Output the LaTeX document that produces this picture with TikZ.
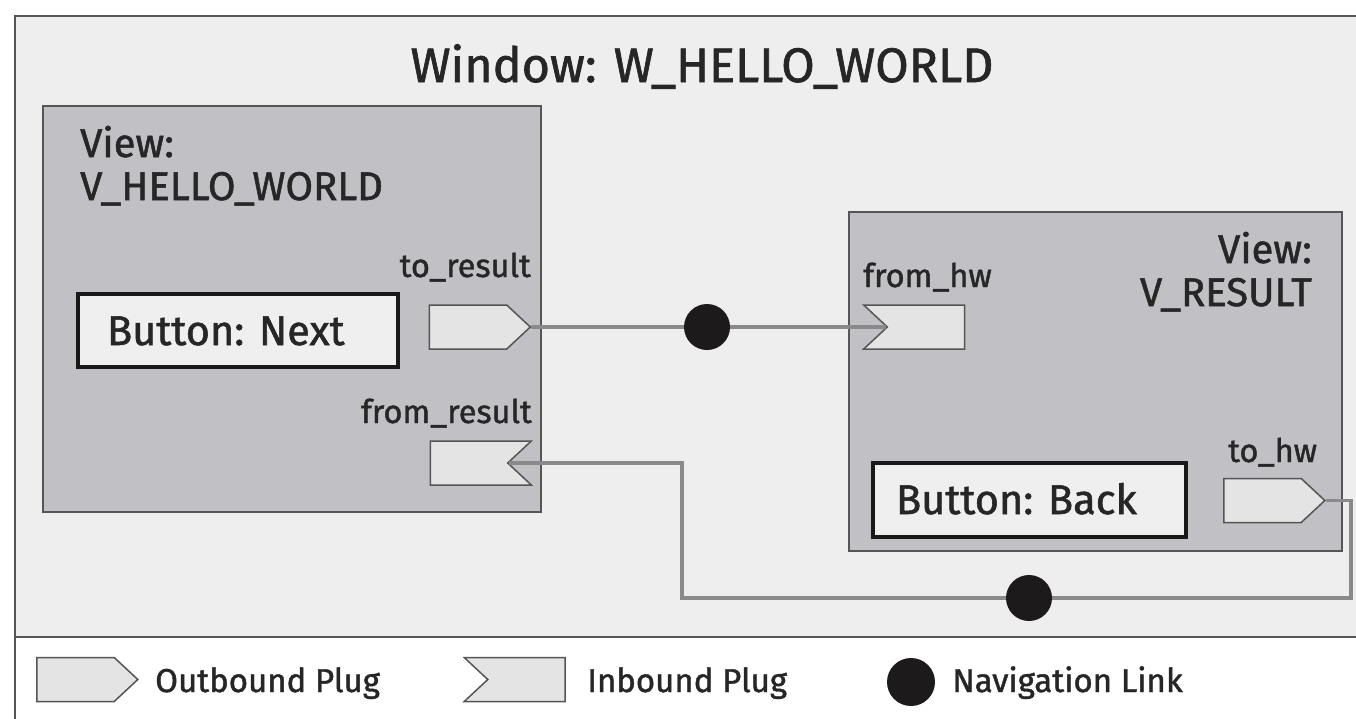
\documentclass[tikz,border=0pt]{standalone}
\usepackage{fontspec}
\setmainfont{Fira Sans}[FakeBold=1.3]
\usetikzlibrary{shapes.symbols}

\definecolor{winbg}{HTML}{EEEEEE}
\definecolor{viewbg}{HTML}{C1C0C5}
\definecolor{frameln}{HTML}{555555}
\definecolor{plugbg}{HTML}{E4E4E4}
\definecolor{linkln}{HTML}{8A8A8A}
\definecolor{txt}{HTML}{262626}
\definecolor{dotfill}{HTML}{1C1A1B}

\tikzset{
  winbox/.style={draw=frameln, fill=winbg, line width=1.6pt},
  viewbox/.style={rectangle, draw=frameln, fill=viewbg, line width=1.6pt, inner sep=0pt},
  btnbox/.style={rectangle, draw=black!90, fill=plugbg!60!white, line width=4pt, inner sep=0pt,
                 text=txt, font=\fontsize{41.5}{41.5}\selectfont},
  plugbase/.style={signal, draw=frameln, fill=plugbg, line width=1.5pt, inner sep=0pt,
                   minimum width=101pt, minimum height=44pt, signal pointer angle=86},
  outplug/.style={plugbase, signal to=east, signal from=nowhere},
  inplugW/.style={plugbase, signal to=nowhere, signal from=west},
  inplugE/.style={plugbase, signal to=nowhere, signal from=east},
  navdot/.style={circle, fill=dotfill, minimum size=46pt, inner sep=0pt},
  link/.style={draw=linkln, line width=3.5pt},
  titletext/.style={text=txt, inner sep=0pt, font=\fontsize{48.5}{48.5}\selectfont},
  viewtext/.style={text=txt, inner sep=0pt, font=\fontsize{40}{43}\selectfont},
  plugtext/.style={text=txt, inner sep=0pt, font=\fontsize{32.5}{32.5}\selectfont},
  legtext/.style={text=txt, inner sep=0pt, font=\fontsize{33}{33}\selectfont},
}

\begin{document}
\begin{tikzpicture}[x=1pt, y=-1pt]
  \useasboundingbox (0,0) rectangle (1356,718);
  \clip (0,0) rectangle (1356,718);
  \fill[white] (0,0) rectangle (1356,718);

  % window frame, open to the right
  \draw[winbox] (15,16) rectangle (1400,637);
  \draw[draw=frameln, line width=1.6pt] (15,637) -- (15,720);
  \node[titletext, anchor=base] (title) at (702,82) {Window: W\_HELLO\_WORLD};

  % view V_HELLO_WORLD (base anchor sits on the last line)
  \node[viewbox, minimum width=498pt, minimum height=406pt] (vhw) at (292,309) {};
  \node[viewtext, anchor=base west, align=left] (vhwlbl) at (80,200)
    {View:\\V\_HELLO\_WORLD};
  \node[btnbox, minimum width=320pt, minimum height=73pt] (btnnext) at (238,330.5) {};
  \node[btnbox, draw=none, fill=none, anchor=base west] (btnnextlbl) at (105,345) {Button: Next};
  \node[outplug] (tores) at (468,327) {};
  \node[plugtext, anchor=base east] (toreslbl) at (531,277) {to\_result};
  \node[inplugE] (fromres) at (469,463) {};
  \node[plugtext, anchor=base east] (fromreslbl) at (532,423) {from\_result};

  % view V_RESULT
  \node[viewbox, minimum width=493pt, minimum height=339pt] (vres) at (1095.5,381.5) {};
  \node[viewtext, anchor=base east, align=right] (vreslbl) at (1312,306)
    {View:\\V\_RESULT};
  \node[plugtext, anchor=base west] (fromhwlbl) at (863,287) {from\_hw};
  \node[inplugW] (fromhw) at (926,327) {};
  \node[btnbox, minimum width=313pt, minimum height=74pt] (btnback) at (1029.5,500) {};
  \node[btnbox, draw=none, fill=none, anchor=base west] (btnbacklbl) at (894,514) {Button: Back};
  \node[plugtext, anchor=base west] (tohwlbl) at (1228,462) {to\_hw};
  \node[outplug] (tohw) at (1262.5,500.5) {};

  % navigation links
  \node[navdot] (nav1) at (707,327) {};
  \node[navdot] (nav2) at (1029,598) {};
  \coordinate (bendR) at (1351,598);
  \coordinate (bendL) at (682,598);

  \draw[link] (tores.0) -- (nav1);
  \draw[link] (nav1) -- (fromhw.180);
  \draw[link] (tohw.0) -| (bendR) -- (nav2);
  \draw[link] (nav2) -- (bendL) |- (fromres.0);

  % legend
  \node[outplug] (legout) at (75.5,679.5) {};
  \node[legtext, anchor=base west] (legoutlbl) at (155,692) {Outbound Plug};
  \node[inplugW] (legin) at (526.5,679.5) {};
  \node[legtext, anchor=base west] (leginlbl) at (587,692) {Inbound Plug};
  \node[navdot, minimum size=48pt] (legnav) at (911,682) {};
  \node[legtext, anchor=base west] (legnavlbl) at (952,692) {Navigation Link};
\end{tikzpicture}
\end{document}
